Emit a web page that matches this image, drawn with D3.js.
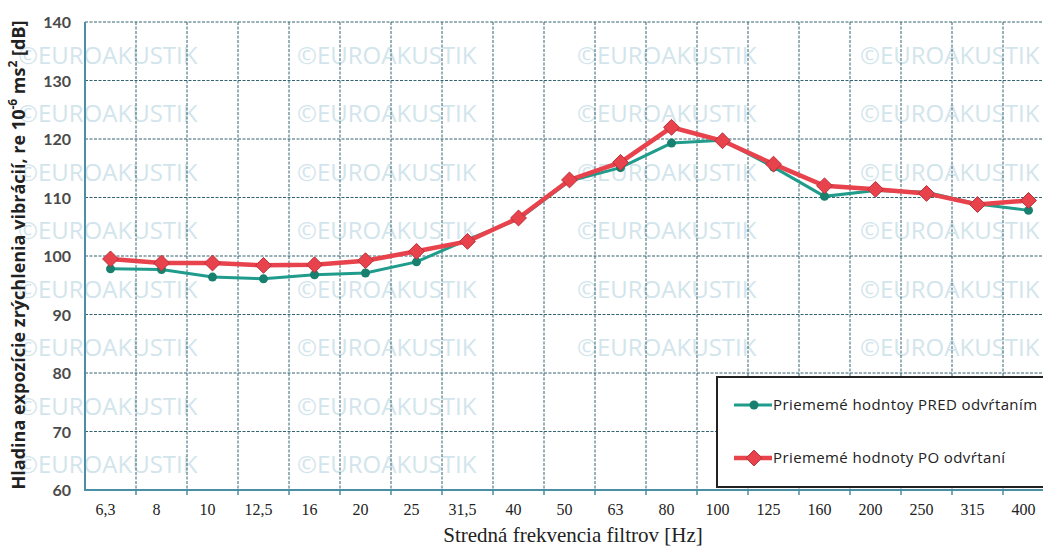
<html>
<head>
<style>
  body { margin: 0; background: #fff; }
  .grid { stroke: #33636f; stroke-width: 1; stroke-dasharray: 3,1.5; }
  .ytick { font-family: Lato, sans-serif; font-weight: bold; font-size: 16px; fill: #4a4a4a; }
  .xtick { font-family: "Liberation Serif", serif; font-size: 16px; fill: #222; }
  .wm { font-family: "Open Sans", sans-serif; font-size: 24px; fill: #d2e5ec; }
  .leg { font-family: "Open Sans", sans-serif; font-size: 15px; letter-spacing: 0.4px; fill: #222; }
</style>
</head>
<body>
<svg id="chart" width="1043" height="547"></svg>
<script src="https://cdn.jsdelivr.net/npm/d3@7"></script>
<script>
// data
let categories = ["6,3","8","10","12,5","16","20","25","31,5","40","50","63","80","100","125","160","200","250","315","400"]
let predValues = [97.8, 97.7, 96.4, 96.1, 96.8, 97.1, 99.0, 102.8, 106.3, 112.8, 115.1, 119.3, 119.8, 115.2, 110.2, 111.2, 110.9, 108.9, 107.8]
let poValues = [99.5, 98.8, 98.8, 98.4, 98.5, 99.2, 100.8, 102.5, 106.5, 113.0, 116.0, 122.0, 119.7, 115.7, 112.0, 111.4, 110.7, 108.8, 109.5]
let yTicks = [60, 70, 80, 90, 100, 110, 120, 130, 140]
let seriesNames = ["Priememé hodntoy PRED odvŕtaním", "Priememé hodnoty PO odvŕtaní"]

let svg = d3.select("#chart")
svg.append("rect").attr("width", 1043).attr("height", 547).attr("fill", "#fff")

let plotLeft = 85, plotRight = 1054, plotTop = 22, plotBottom = 490

let xScale = d3.scaleBand().domain(categories).range([plotLeft, plotRight]).padding(0)
let yScale = d3.scaleLinear().domain([60, 140]).range([plotBottom, plotTop])
let cx = c => xScale(c) + xScale.bandwidth() / 2

// legend box position
let legX = 717, legY = 377, legH = 110

// watermark (skipped where the legend box covers it)
let wmX = [18, 297, 577, 860]
yTicks.slice(0, 8).forEach(v => {
    wmX.forEach(x => {
        let y = yScale(v) - 17
        if (x + 180 > legX && y > legY) return
        svg.append("text").attr("class", "wm")
            .attr("x", x).attr("y", y)
            .text("©EUROAKUSTIK")
    })
})

// grid
svg.append("g").selectAll("line").data(yTicks.slice(1)).join("line")
    .attr("class", "grid")
    .attr("x1", plotLeft).attr("x2", 1043)
    .attr("y1", d => yScale(d)).attr("y2", d => yScale(d))

svg.append("g").selectAll("line").data(categories.slice(1)).join("line")
    .attr("class", "grid")
    .attr("x1", d => xScale(d)).attr("x2", d => xScale(d))
    .attr("y1", plotTop).attr("y2", plotBottom)

// axes lines
svg.append("line").attr("x1", plotLeft).attr("x2", plotLeft).attr("y1", plotTop).attr("y2", plotBottom + 1)
    .attr("stroke", "#4a8fa3").attr("stroke-width", 2)
svg.append("line").attr("x1", plotLeft).attr("x2", 1043).attr("y1", plotBottom).attr("y2", plotBottom)
    .attr("stroke", "#4a8fa3").attr("stroke-width", 2)

// bottom tick marks
svg.append("g").selectAll("line").data(categories.slice(1)).join("line")
    .attr("x1", d => xScale(d)).attr("x2", d => xScale(d))
    .attr("y1", plotBottom).attr("y2", plotBottom + 5)
    .attr("stroke", "#4a8fa3").attr("stroke-width", 1.5)

// y tick labels
svg.append("g").selectAll("text").data(yTicks).join("text")
    .attr("class", "ytick")
    .attr("x", 71).attr("y", d => yScale(d) + 6)
    .attr("text-anchor", "end")
    .text(d => d)

// x tick labels
svg.append("g").selectAll("text").data(categories).join("text")
    .attr("class", "xtick")
    .attr("x", d => cx(d) - 5).attr("y", 515)
    .attr("text-anchor", "middle")
    .text(d => d)

// x title
svg.append("text")
    .attr("x", 573).attr("y", 542)
    .attr("text-anchor", "middle")
    .style("font-family", "Liberation Serif, serif").style("font-size", "21px").style("fill", "#222")
    .text("Stredná frekvencia filtrov [Hz]")

// y title
let yTitle = svg.append("text")
    .attr("transform", "translate(25,255) rotate(-90)")
    .attr("text-anchor", "middle")
    .style("font-family", "Open Sans, sans-serif").style("font-weight", "bold")
    .style("font-size", "18px").style("fill", "#222")
yTitle.append("tspan").text("Hladina expozície zrýchlenia vibrácií, re 10")
yTitle.append("tspan").attr("baseline-shift", "super").style("font-size", "12px").text("-6")
yTitle.append("tspan").text(" ms")
yTitle.append("tspan").attr("baseline-shift", "super").style("font-size", "12px").text("2")
yTitle.append("tspan").text(" [dB]")

// lines
let line = d3.line().x(d => cx(d.c)).y(d => yScale(d.v))
let predData = categories.map((c, i) => ({c: c, v: predValues[i]}))
let poData = categories.map((c, i) => ({c: c, v: poValues[i]}))

svg.append("path").datum(predData).attr("d", line)
    .attr("fill", "none").attr("stroke", "#1f9c8b").attr("stroke-width", 3)
svg.append("g").selectAll("circle").data(predData).join("circle")
    .attr("cx", d => cx(d.c)).attr("cy", d => yScale(d.v)).attr("r", 4.5)
    .attr("fill", "#17806f")

let diamond = d3.symbol().type(d3.symbolDiamond2).size(160)
svg.append("path").datum(poData).attr("d", line)
    .attr("fill", "none").attr("stroke", "#e8424c").attr("stroke-width", 4.5)
svg.append("g").selectAll("path").data(poData).join("path")
    .attr("d", diamond)
    .attr("transform", d => "translate(" + cx(d.c) + "," + yScale(d.v) + ")")
    .attr("fill", "#e8424c").attr("stroke", "#b8303a").attr("stroke-width", 1)

// legend
let legend = svg.append("g")
legend.append("rect").attr("x", legX).attr("y", legY).attr("width", 340).attr("height", legH)
    .attr("fill", "#fff").attr("stroke", "#222").attr("stroke-width", 2)
legend.append("line").attr("x1", 734).attr("x2", 772).attr("y1", 405).attr("y2", 405)
    .attr("stroke", "#1f9c8b").attr("stroke-width", 3)
legend.append("circle").attr("cx", 754).attr("cy", 405).attr("r", 4.5).attr("fill", "#17806f")
legend.append("text").attr("class", "leg").attr("x", 773).attr("y", 410).text(seriesNames[0])
legend.append("line").attr("x1", 734).attr("x2", 772).attr("y1", 458).attr("y2", 458)
    .attr("stroke", "#e8424c").attr("stroke-width", 4.5)
legend.append("path").attr("d", diamond).attr("transform", "translate(754,458)")
    .attr("fill", "#e8424c").attr("stroke", "#b8303a")
legend.append("text").attr("class", "leg").attr("x", 773).attr("y", 463).text(seriesNames[1])
</script>
</body>
</html>
